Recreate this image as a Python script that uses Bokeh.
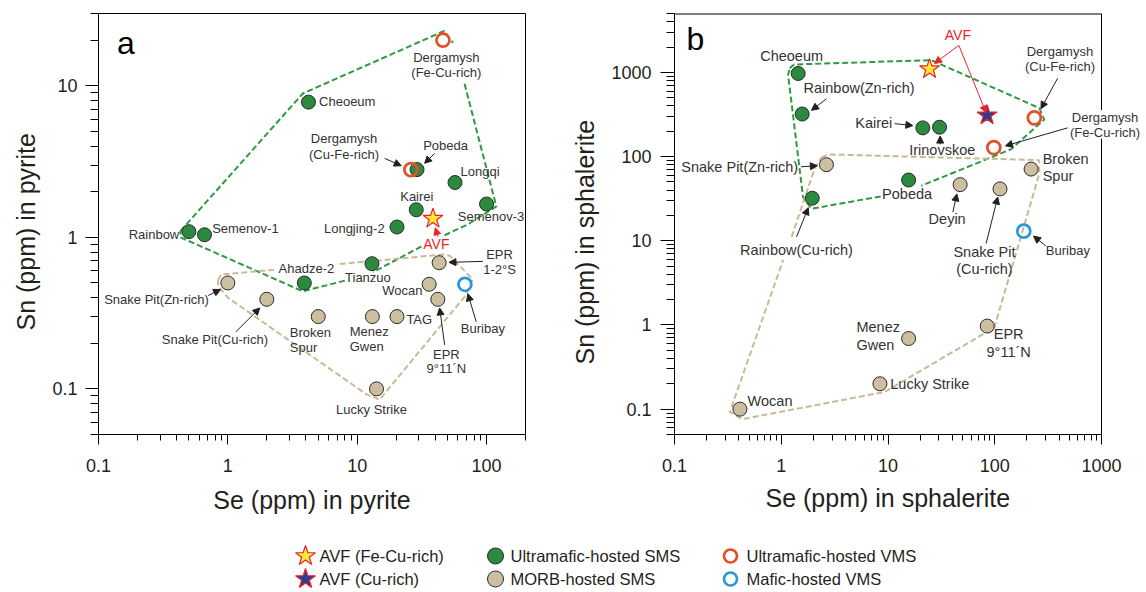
from math import pi, nan
from bokeh.plotting import figure
from bokeh.layouts import row, column
from bokeh.models import ColumnDataSource, Range1d, Arrow, NormalHead, Title, CustomJSTickFormatter
from bokeh.core.properties import value
from bokeh.embed import file_html
from bokeh.resources import INLINE

# ---------------- panel a : pyrite ----------------
a_umsms_names = ["Cheoeum", "Pobeda", "Longqi", "Kairei", "Semenov-3", "Longjing-2",
                 "Rainbow", "Semenov-1", "Tianzuo", "Ahadze-2"]
a_umsms_se = [4.2, 29, 57, 28.6, 100, 20.3, 0.50, 0.66, 13.0, 3.9]
a_umsms_sn = [7.8, 2.8, 2.3, 1.52, 1.66, 1.17, 1.09, 1.04, 0.67, 0.50]

a_morb_names = ["EPR 1-2°S", "Snake Pit(Zn-rich)", "Wocan", "Snake Pit(Cu-rich)", "EPR 9°11´N",
                "Broken Spur", "Menez Gwen", "TAG", "Lucky Strike"]
a_morb_se = [43, 1.0, 36, 2.0, 42, 5.0, 13.1, 20.3, 14.1]
a_morb_sn = [0.68, 0.50, 0.49, 0.39, 0.39, 0.30, 0.30, 0.30, 0.10]

a_umvms_names = ["Dergamysh (Fe-Cu-rich)", "Dergamysh (Cu-Fe-rich)"]
a_umvms_se = [46, 26]
a_umvms_sn = [20, 2.8]

a_mvms_names = ["Buribay"]
a_mvms_se = [68]
a_mvms_sn = [0.49]

a_avf_fecu_se = [38.5]
a_avf_fecu_sn = [1.33]

a_um_hull_se = [0.43, 3.8, 47, 55, nan, 67.6, 119, 72, 46, nan, 31.3, 13.3, nan, 8.01, 3.8, 0.43, 0.43]
a_um_hull_sn = [1.1, 8.9, 23, 19.2, nan, 10.3, 1.6, 1.22, 1.02, nan, 0.87, 0.59, nan, 0.518, 0.44, 1.0, 1.1]
a_morb_hull_se = [0.84, 0.89, 2.27, nan, 7.33, 46, 52, 78, 70, 14.9, 11.8, 1.0, 0.84, 0.84]
a_morb_hull_sn = [0.52, 0.57, 0.61, nan, 0.667, 0.77, 0.755, 0.53, 0.42, 0.085, 0.092, 0.40, 0.48, 0.52]

# ---------------- panel b : sphalerite ----------------
b_umsms_names = ["Cheoeum", "Rainbow(Zn-rich)", "Kairei", "Irinovskoe", "Pobeda", "Rainbow(Cu-rich)"]
b_umsms_se = [1.44, 1.57, 21.2, 30.4, 15.6, 1.95]
b_umsms_sn = [970, 320, 219, 223, 52.6, 32]

b_morb_names = ["Snake Pit(Zn-rich)", "Broken Spur", "Deyin", "Snake Pit(Cu-rich)", "EPR 9°11´N",
                "Menez Gwen", "Lucky Strike", "Wocan"]
b_morb_se = [2.65, 219, 47.4, 112, 85, 15.6, 8.4, 0.41]
b_morb_sn = [80, 71, 46.4, 41.3, 0.97, 0.69, 0.20, 0.10]

b_umvms_names = ["Dergamysh (Cu-Fe-rich)", "Dergamysh (Fe-Cu-rich)"]
b_umvms_se = [235, 98]
b_umvms_sn = [288, 128]

b_mvms_names = ["Buribay"]
b_mvms_se = [187]
b_mvms_sn = [13.0]

b_avf_fecu_se = [24.5]
b_avf_fecu_sn = [1094]
b_avf_cu_se = [84.7]
b_avf_cu_sn = [309]

b_um_hull_se = [1.2, 1.32, 25.4, 261, 291, 142, 20.5, nan, 8.55, 1.92, 1.6, 1.16, 1.2]
b_um_hull_sn = [1115, 1240, 1397, 377, 275, 122, 45, nan, 33.6, 24, 33, 929, 1115]
b_morb_hull_se = [2.38, 2.75, 261, 261, 99, 9.3, 0.43, 0.33, 1.044, nan, 1.25, 2.07, 2.38]
b_morb_hull_sn = [97, 106, 90.6, 62, 0.93, 0.16, 0.076, 0.093, 5.93, nan, 11.1, 74, 97]

# ---------------- legend ----------------
legend_labels = ["AVF (Fe-Cu-rich)", "AVF (Cu-rich)", "Ultramafic-hosted SMS",
                 "MORB-hosted SMS", "Ultramafic-hosted VMS", "Mafic-hosted VMS"]

FONT = "Liberation Sans"
GREEN = "#2b8a3e"
TAN = "#cbbf9f"
ORANGE = "#e1502a"
BLUE = "#2898d8"
YELLOW = "#ffe83a"
NAVY = "#2c3d95"
RED = "#e8262a"
TXT = "#333333"
AX = "#231f20"
EDGE = "#2a2a2a"


def make_fig(xr, yr, w, h, bl, br, bt, bb):
    p = figure(width=w, height=h, x_axis_type="log", y_axis_type="log",
               x_range=Range1d(*xr), y_range=Range1d(*yr),
               output_backend="svg", toolbar_location=None,
               min_border_left=bl, min_border_right=br, min_border_top=bt, min_border_bottom=bb)
    p.grid.visible = False
    p.outline_line_color = "black"
    p.outline_line_alpha = 1
    p.outline_line_width = 1
    p.background_fill_color = "white"
    p.border_fill_color = "white"
    fmt = CustomJSTickFormatter(code="return tick >= 1 ? tick.toFixed(0) : tick.toPrecision(1);")
    for ax in (p.xaxis[0], p.yaxis[0]):
        ax.formatter = fmt
        ax.major_tick_in = 0
        ax.minor_tick_in = 0
        ax.axis_line_color = "black"
        ax.major_tick_line_color = "black"
        ax.minor_tick_line_color = "black"
        ax.major_label_text_font = FONT
        ax.major_label_text_font_size = "18px"
        ax.major_label_text_color = AX
        ax.axis_label_text_font = FONT
        ax.axis_label_text_font_size = "25px"
        ax.axis_label_text_font_style = "normal"
        ax.axis_label_text_color = AX
    p.xaxis.major_tick_out = 10
    p.xaxis.minor_tick_out = 6
    p.xaxis.major_label_standoff = 14
    p.xaxis.axis_label_standoff = 11
    p.yaxis.major_tick_out = 13
    p.yaxis.minor_tick_out = 8
    p.yaxis.major_label_standoff = 8
    return p


def side_title(p, text, side, offset, standoff):
    # align "left" = start of the text (bottom for vertical titles); offset moves it along the side
    p.add_layout(Title(text=text, align="left", offset=offset, standoff=standoff,
                       text_font=FONT, text_font_size="25px", text_font_style="normal",
                       text_color=AX), side)


def add_points(p, umsms, morb, umvms, mvms, stars):
    p.scatter(umsms[0], umsms[1], marker="circle", size=14, fill_color=GREEN, line_color=EDGE, line_width=1)
    p.scatter(morb[0], morb[1], marker="circle", size=14, fill_color=TAN, line_color=EDGE, line_width=1)
    p.scatter(umvms[0], umvms[1], marker="circle", size=13, fill_color=None, line_color=ORANGE, line_width=2.7)
    p.scatter(mvms[0], mvms[1], marker="circle", size=13, fill_color=None, line_color=BLUE, line_width=2.7)
    for (sx, sy, col) in stars:
        p.scatter(sx, sy, marker="star", size=21, fill_color=col, line_color=RED, line_width=1.2)


def add_labels(p, labels, size):
    for align in ("left", "center", "right"):
        sel = [l for l in labels if l[3] == align]
        if not sel:
            continue
        src = ColumnDataSource(dict(x=[l[1] for l in sel], y=[l[2] for l in sel], t=[l[0] for l in sel]))
        p.text("x", "y", text="t", source=src, text_font=value(FONT), text_font_size=size,
               text_color=TXT, text_align=align, text_baseline="middle")


def add_arrows(p, arrows, color):
    src = ColumnDataSource(dict(x0=[a[0] for a in arrows], y0=[a[1] for a in arrows],
                                x1=[a[2] for a in arrows], y1=[a[3] for a in arrows]))
    p.add_layout(Arrow(source=src, x_start="x0", y_start="y0", x_end="x1", y_end="y1",
                       line_color=color, line_width=1,
                       end=NormalHead(size=7, fill_color=color, line_color=color, line_width=1)))


# ================= panel a =================
pa = make_fig((0.1, 200), (0.05, 30), 559, 519, 98, 34, 11, 82)
pa.xaxis.axis_label = "Se (ppm) in pyrite"
side_title(pa, "Sn (ppm) in pyrite", "left", 104, 19)
pa.line(a_um_hull_se, a_um_hull_sn, line_color="#2f9a40", line_width=2, line_dash="6 3")
pa.line(a_morb_hull_se, a_morb_hull_sn, line_color="#c9b996", line_width=2, line_dash="6 3")
add_points(pa, (a_umsms_se, a_umsms_sn), (a_morb_se, a_morb_sn), (a_umvms_se, a_umvms_sn),
           (a_mvms_se, a_mvms_sn), [(a_avf_fecu_se, a_avf_fecu_sn, YELLOW)])

a_labels = [
    ("Dergamysh", 48.9, 15.3, "center"), ("(Fe-Cu-rich)", 48.9, 12.2, "center"),
    ("Cheoeum", 5.07, 7.89, "left"),
    ("Dergamysh", 7.91, 4.48, "center"), ("(Cu-Fe-rich)", 7.91, 3.52, "center"),
    ("Pobeda", 48.2, 4.01, "center"), ("Longqi", 63, 2.74, "left"),
    ("Kairei", 28.9, 1.86, "center"), ("Semenov-3", 60, 1.365, "left"),
    ("Longjing-2", 16.3, 1.145, "right"), ("Rainbow", 0.421, 1.046, "right"),
    ("Semenov-1", 0.756, 1.145, "left"),
    ("EPR", 126, 0.766, "center"), ("1-2°S", 126, 0.618, "center"),
    ("Ahadze-2", 4.05, 0.624, "center"), ("Tianzuo", 12.1, 0.545, "center"),
    ("Wocan", 31.9, 0.446, "right"),
    ("Snake Pit(Zn-rich)", 0.281, 0.388, "center"), ("Snake Pit(Cu-rich)", 0.794, 0.213, "center"),
    ("Broken", 3.01, 0.235, "left"), ("Spur", 3.01, 0.187, "left"),
    ("Menez", 8.75, 0.240, "left"), ("Gwen", 8.75, 0.190, "left"),
    ("TAG", 24.0, 0.288, "left"),
    ("EPR", 48.9, 0.169, "center"), ("9°11´N", 48.9, 0.137, "center"),
    ("Buribay", 93.6, 0.250, "center"), ("Lucky Strike", 12.9, 0.0732, "center"),
]
add_labels(pa, a_labels, "13px")
pa.text([40.9], [0.90], text=["AVF"], text_font=value(FONT), text_font_size="14px",
        text_color=RED, text_align="center", text_baseline="middle")
add_arrows(pa, [(16.3, 3.32, 21.9, 2.97), (39.7, 3.58, 33.2, 3.08), (93.6, 0.694, 51.2, 0.684),
                (0.705, 0.413, 0.878, 0.453), (1.153, 0.238, 1.766, 0.342),
                (47.4, 0.195, 43.4, 0.342), (83.2, 0.277, 71.7, 0.424)], AX)
add_arrows(pa, [(42.1, 1.01, 40.2, 1.157)], RED)
pa.text([0.163], [19.1], text=["a"], text_font=value(FONT), text_font_size="32px",
        text_color="black", text_align="center", text_baseline="middle")

# ================= panel b =================
# the frame runs past x = 1000 so that a label may overhang the box; the box is drawn by hand
bx = (0.1, 1000)
by = (0.05, 5000)
pb = make_fig((bx[0], 2474), by, 584, 519, 115, 0, 13, 79)
pb.outline_line_color = None
pb.xaxis.bounds = bx
pb.yaxis.major_tick_out = 14
pb.yaxis.major_label_standoff = 9
side_title(pb, "Se (ppm) in sphalerite", "below", 91, 15)
side_title(pb, "Sn (ppm) in sphalerite", "left", 70, 19)
pb.line([bx[0], bx[1]], [by[1], by[1]], line_color="black", line_width=2)
pb.line([bx[1], bx[1], nan, bx[1], bx[1]], [by[0], 163, nan, 357, by[1]], line_color="black", line_width=1)
pb.line(b_um_hull_se, b_um_hull_sn, line_color="#2f9a40", line_width=2, line_dash="6 3")
pb.line(b_morb_hull_se, b_morb_hull_sn, line_color="#c9b996", line_width=2, line_dash="6 3")
add_points(pb, (b_umsms_se, b_umsms_sn), (b_morb_se, b_morb_sn), (b_umvms_se, b_umvms_sn),
           (b_mvms_se, b_mvms_sn), [(b_avf_fecu_se, b_avf_fecu_sn, YELLOW), (b_avf_cu_se, b_avf_cu_sn, NAVY)])

b_labels = [
    ("Cheoeum", 1.25, 1555, "center"),
    ("Rainbow(Zn-rich)", 5.36, 649, "center"),
    ("Kairei", 10.97, 251, "right"), ("Irinovskoe", 32.2, 118.6, "center"),
    ("Snake Pit(Zn-rich)", 1.44, 75.6, "right"),
    ("Broken", 281, 94.7, "left"), ("Spur", 281, 58.2, "left"),
    ("Pobeda", 15.1, 36.0, "center"), ("Deyin", 35.8, 18.3, "center"),
    ("Snake Pit", 80.1, 7.43, "center"), ("(Cu-rich)", 80.1, 4.59, "center"),
    ("Rainbow(Cu-rich)", 1.39, 7.78, "center"),
    ("Menez", 5.06, 0.947, "left"), ("Gwen", 5.06, 0.582, "left"),
    ("EPR", 135, 0.778, "center"), ("9°11´N", 135, 0.472, "center"),
    ("Lucky Strike", 10.5, 0.197, "left"), ("Wocan", 0.484, 0.124, "left"),
]
add_labels(pb, b_labels, "14.5px")
b_small = [("Dergamysh", 408, 1782, "center"), ("(Cu-Fe-rich)", 408, 1167, "center"),
           ("Buribay", 301, 7.63, "left"),
           ("Dergamysh", 1080, 293, "center"), ("(Fe-Cu-rich)", 1080, 195, "center")]
add_labels(pb, b_small, "13px")
pb.text([45.1], [2800], text=["AVF"], text_font=value(FONT), text_font_size="14px",
        text_color=RED, text_align="center", text_baseline="middle")
add_arrows(pb, [(46.1, 2094, 27.3, 1276), (46.1, 2094, 83, 330)], RED)
add_arrows(pb, [(388, 850, 271, 370), (481, 219, 126, 134), (2.65, 485, 1.92, 354),
                (11.55, 246, 17.1, 233), (30.8, 139.6, 30.8, 175), (1.53, 75.6, 2.18, 77.7),
                (40.5, 21.9, 44.2, 36.0), (83, 9.29, 106.7, 33.0), (1.39, 11.1, 1.79, 24.7),
                (301, 8.67, 231, 11.35)], AX)
pb.text([0.157], [2512], text=["b"], text_font=value(FONT), text_font_size="32px",
        text_color="black", text_align="center", text_baseline="middle")

# ================= legend =================
pl = figure(width=1143, height=72, x_range=Range1d(1, 1144), y_range=Range1d(592, 520),
            output_backend="svg", toolbar_location=None, min_border=0)
pl.axis.visible = False
pl.grid.visible = False
pl.outline_line_color = None
leg_x_sym = [306, 306, 496, 496, 731, 731]
leg_x_txt = [320, 320, 511, 511, 747, 747]
leg_y = [556.5, 579.5, 556.5, 579.5, 556.5, 579.5]
pl.scatter(leg_x_sym[0:2], leg_y[0:2], marker="star", size=21, fill_color=[YELLOW, NAVY],
           line_color=RED, line_width=1.2)
pl.scatter(leg_x_sym[2:4], leg_y[2:4], marker="circle", size=16, fill_color=[GREEN, TAN],
           line_color=EDGE, line_width=1)
pl.scatter(leg_x_sym[4:6], leg_y[4:6], marker="circle", size=13, fill_color=None,
           line_color=[ORANGE, BLUE], line_width=2.7)
pl.text(leg_x_txt, leg_y, text=legend_labels, text_font=value(FONT), text_font_size="16.5px",
        text_color=AX, text_align="left", text_baseline="middle")

layout = column(row(pa, pb), pl)
open("out.html", "w").write(file_html(layout, INLINE))
